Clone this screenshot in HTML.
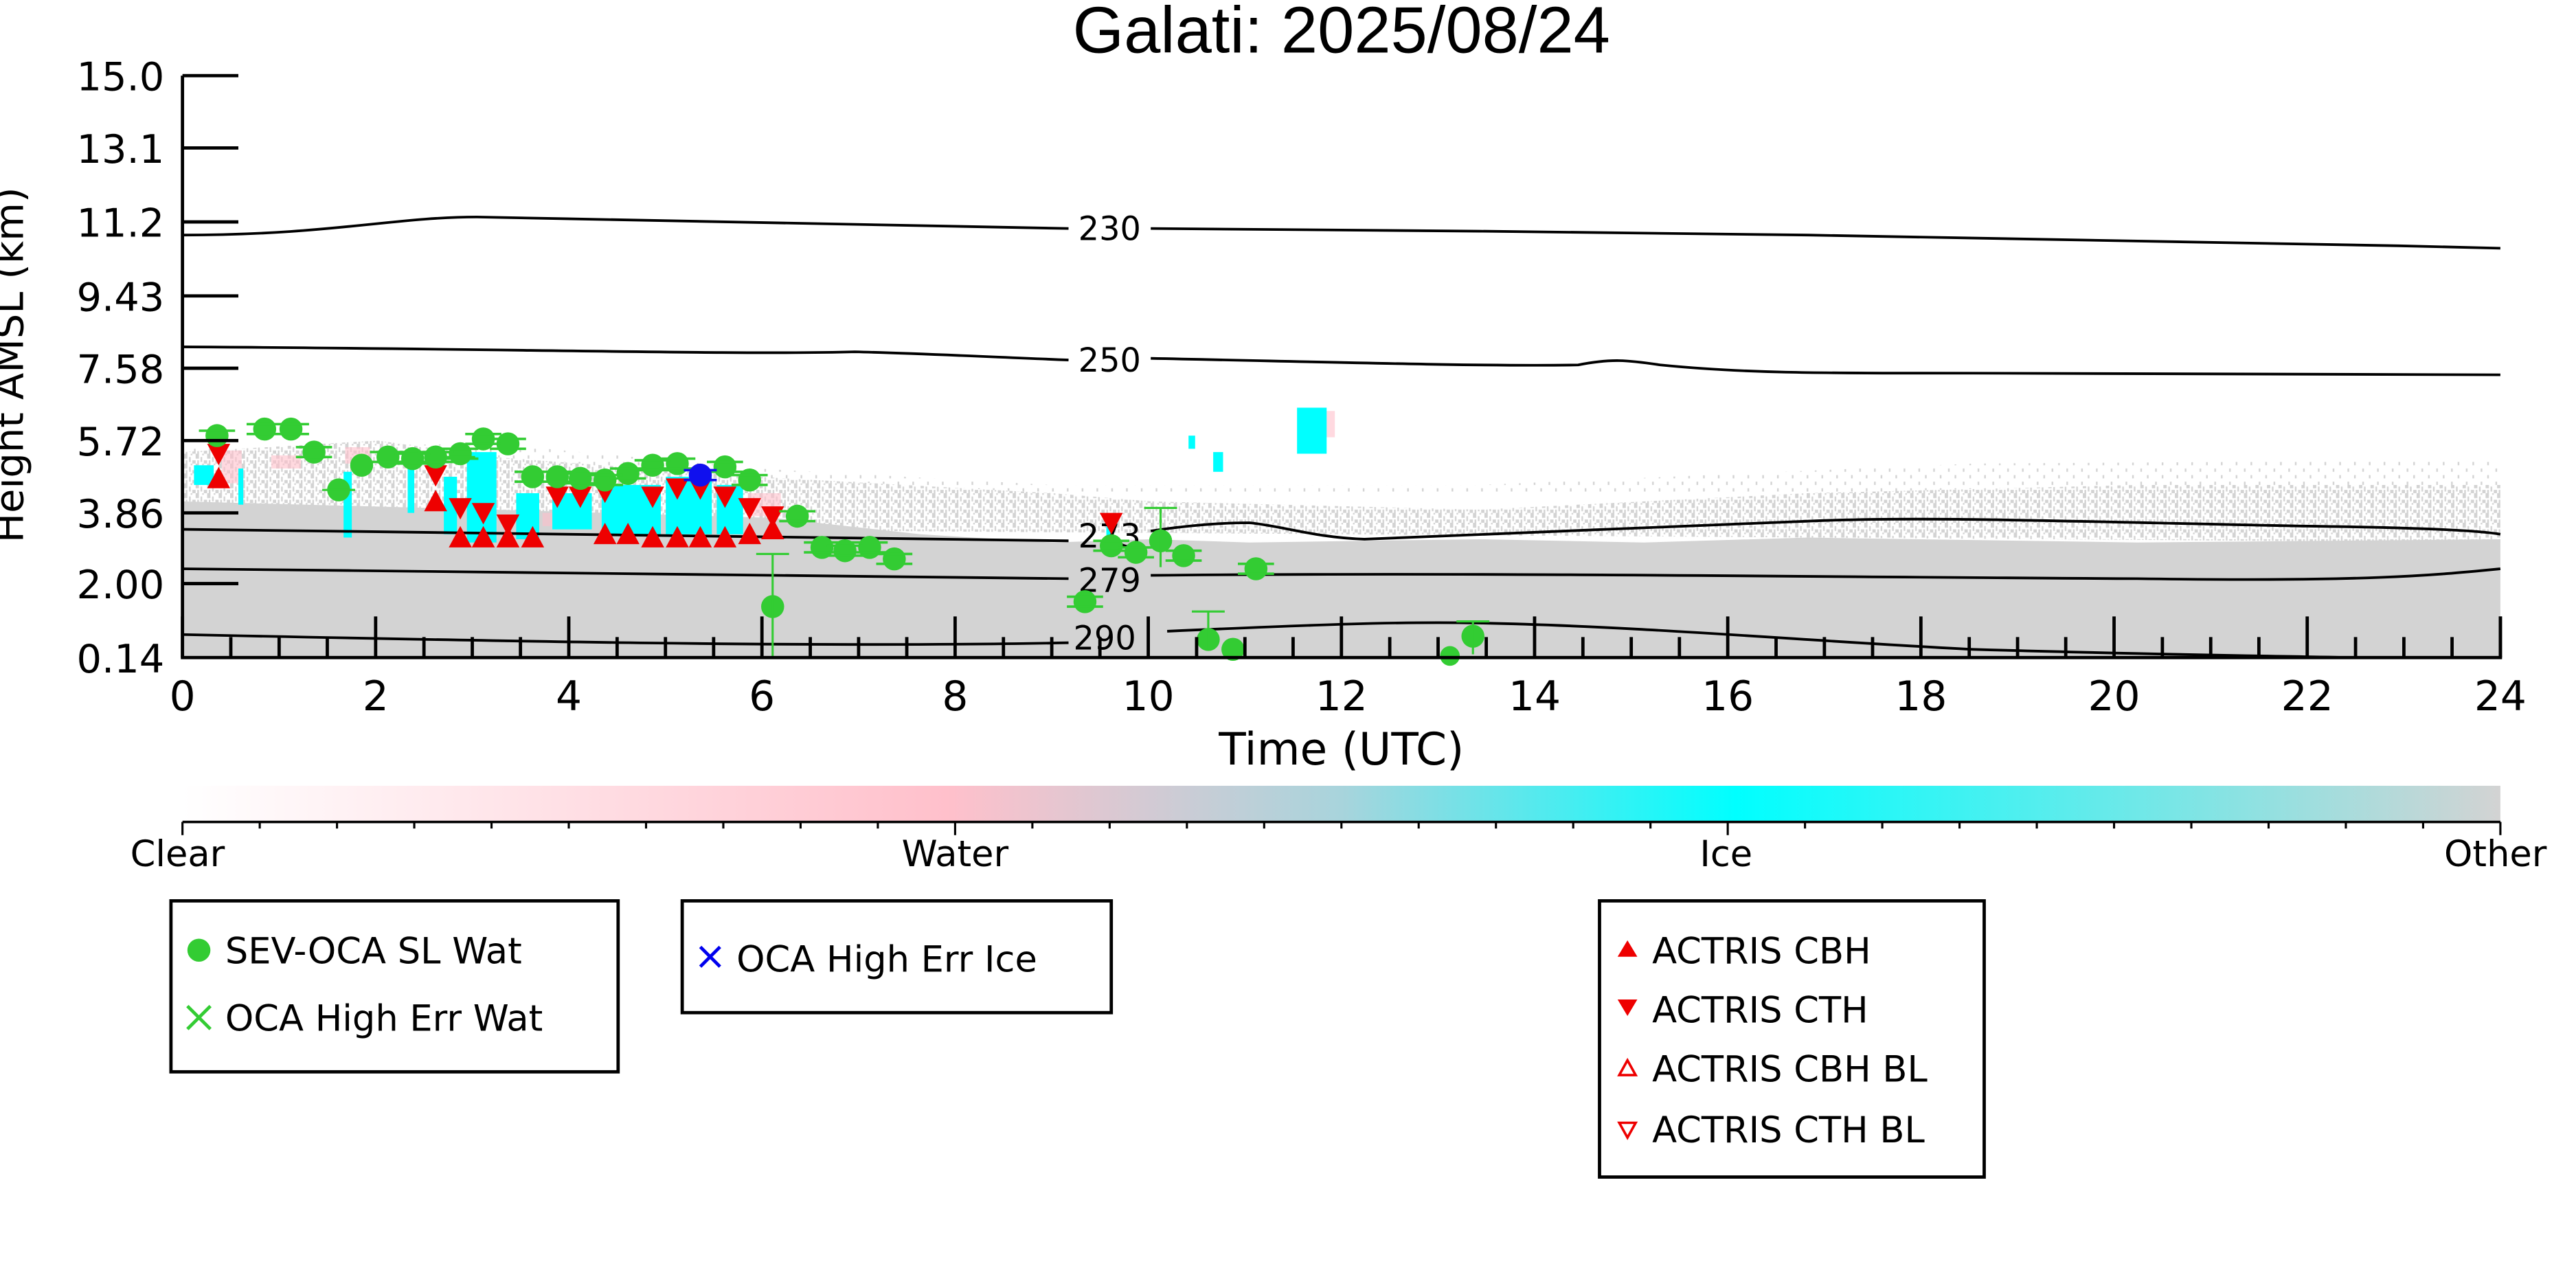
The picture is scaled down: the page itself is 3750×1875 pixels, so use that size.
<!DOCTYPE html>
<html><head><meta charset="utf-8"><style>
html,body{margin:0;padding:0;background:#fff;}
svg{display:block;}
text{font-family:"DejaVu Sans","Liberation Sans",sans-serif;}
</style></head><body>
<svg width="3750" height="1875" viewBox="0 0 1567 783.5" xmlns="http://www.w3.org/2000/svg">
<defs>
<linearGradient id="cb" x1="0" x2="1" y1="0" y2="0">
<stop offset="0" stop-color="#ffffff"/>
<stop offset="0.33" stop-color="#ffc0cb"/>
<stop offset="0.5" stop-color="#a8d4dc"/>
<stop offset="0.67" stop-color="#00ffff"/>
<stop offset="1" stop-color="#d3d3d3"/>
</linearGradient>
<pattern id="d1" width="7" height="6" patternUnits="userSpaceOnUse"><rect width="7" height="6" fill="#fff"/><rect x="0" y="0" width="2" height="3" fill="#d3d3d3"/><rect x="3" y="2" width="1" height="3" fill="#d3d3d3"/><rect x="5" y="4" width="2" height="2" fill="#d3d3d3"/><rect x="4" y="0" width="1" height="1" fill="#d3d3d3"/><rect x="1" y="4" width="1" height="2" fill="#d3d3d3"/></pattern>
<pattern id="d2" width="9" height="8" patternUnits="userSpaceOnUse"><rect width="9" height="8" fill="#fff"/><rect x="1" y="1" width="1" height="2" fill="#d3d3d3"/><rect x="6" y="5" width="1" height="2" fill="#d3d3d3"/></pattern>
</defs>
<text x="816" y="32" font-size="40" text-anchor="middle" style="font-family:'Liberation Sans',sans-serif">Galati: 2025/08/24</text>
<!-- data -->
<polygon fill="url(#d2)" points="111,272 300,270 460,285 640,295 900,295 1200,282 1521,280 1521,300 111,300"/>
<polygon fill="url(#d1)" points="111,275 230,268 300,278 460,290 640,300 700,305 900,310 1100,300 1300,295 1521,295 1521,330 111,320"/>
<polygon fill="#d3d3d3" points="111,400 111,305 300,310 470,315 560,325 640,330 700,328 760,330 900,328 1000,330 1100,327 1300,330 1521,328 1521,400"/>
<g fill="#ffc0cb" opacity="0.6">
<rect x="135" y="274" width="12" height="20"/><rect x="165" y="277" width="18" height="8"/><rect x="210" y="272" width="15" height="10"/>
<rect x="330" y="312" width="12" height="8"/><rect x="455" y="300" width="20" height="14"/>
<rect x="806" y="250" width="6" height="16"/>
</g>
<g fill="#00ffff">
<rect x="118" y="283" width="12" height="12"/><rect x="145" y="285" width="3" height="22"/>
<rect x="209" y="287" width="5" height="40"/><rect x="248" y="282" width="4" height="30"/>
<rect x="270" y="290" width="8" height="35"/><rect x="284" y="275" width="18" height="55"/>
<rect x="314" y="300" width="14" height="28"/><rect x="336" y="300" width="24" height="22"/>
<rect x="366" y="295" width="36" height="30"/><rect x="405" y="290" width="28" height="35"/><rect x="436" y="295" width="16" height="30"/>
<rect x="789" y="248" width="18" height="28"/><rect x="738" y="275" width="6" height="12"/><rect x="723" y="265" width="4" height="8"/>
<rect x="673" y="318" width="4" height="8"/>
</g>
<!-- contours -->
<g fill="none" stroke="#000" stroke-width="1.6">
<path d="M111,143 C200,143 240,132 290,132 C400,134 500,137 650,139 M700,139 C850,140 950,141 1100,143 C1300,146 1400,148 1521,151"/>
<path d="M111,211 C300,212 450,216 520,214 C560,215 600,217 650,219 M700,218 C800,220 900,223 960,222 C980,218 990,219 1010,222 C1060,227 1100,227 1200,227 C1350,227 1450,227 1521,228"/>
<path d="M111,322 C300,324 500,328 650,329 M700,323 C720,320 740,318 760,318 C780,320 800,327 830,328 C900,326 1000,321 1100,317 C1170,314 1250,317 1400,320 C1480,321 1510,323 1521,325"/>
<path d="M111,346 C300,348 500,350 650,352 M700,350 C900,348 1100,351 1300,352 C1440,354 1480,350 1521,346"/>
<path d="M111,386 C300,390 500,394 650,391 M710,384 C800,380 850,378 900,379 C1000,381 1100,390 1200,395 C1300,398 1380,399 1430,400"/>
</g>
<g font-size="20" text-anchor="middle">
<text x="675" y="146">230</text><text x="675" y="226">250</text>
<text x="675" y="333">273</text><text x="675" y="360">279</text><text x="672" y="395">290</text>
</g>
<!-- red markers -->
<g fill="#ee0000">
<path d="M126,270 h14 l-7,13z M133,284 l-7,13 h14z"/>
<path d="M265,298 l-7,13 h14z M280,320 l-7,13 h14z M294,320 l-7,13 h14z M309,320 l-7,13 h14z M324,320 l-7,13 h14z M368,318 l-7,13 h14z M382,318 l-7,13 h14z M397,320 l-7,13 h14z M412,320 l-7,13 h14z M426,320 l-7,13 h14z M441,320 l-7,13 h14z M456,318 l-7,13 h14z M470,315 l-7,13 h14z"/>
<path d="M258,283 h14 l-7,13z M273,303 h14 l-7,13z M287,306 h14 l-7,13z M302,313 h14 l-7,13z M332,296 h14 l-7,13z M346,296 h14 l-7,13z M361,293 h14 l-7,13z M390,296 h14 l-7,13z M405,291 h14 l-7,13z M419,291 h14 l-7,13z M434,296 h14 l-7,13z M449,303 h14 l-7,13z M463,308 h14 l-7,13z M669,312 h14 l-7,13z"/>
</g>
<!-- green markers -->
<g fill="#33cc33" stroke="#33cc33" stroke-width="1.3">
<g stroke="none">
<circle cx="132" cy="265" r="7"/><circle cx="161" cy="261" r="7"/><circle cx="177" cy="261" r="7"/><circle cx="191" cy="275" r="7"/>
<circle cx="206" cy="298" r="7"/><circle cx="220" cy="283" r="7"/><circle cx="236" cy="278" r="7"/><circle cx="251" cy="279" r="7"/>
<circle cx="265" cy="278" r="7"/><circle cx="280" cy="276" r="7"/><circle cx="294" cy="267" r="7"/><circle cx="309" cy="270" r="7"/>
<circle cx="324" cy="290" r="7"/><circle cx="339" cy="290" r="7"/><circle cx="353" cy="291" r="7"/><circle cx="368" cy="292" r="7"/>
<circle cx="382" cy="288" r="7"/><circle cx="397" cy="283" r="7"/><circle cx="412" cy="282" r="7"/><circle cx="441" cy="284" r="7"/>
<circle cx="456" cy="292" r="7"/><circle cx="485" cy="314" r="7"/><circle cx="500" cy="333" r="7"/><circle cx="514" cy="335" r="7"/>
<circle cx="529" cy="333" r="7"/><circle cx="544" cy="340" r="7"/><circle cx="470" cy="369" r="7"/><circle cx="660" cy="366" r="7"/>
<circle cx="676" cy="332" r="7"/><circle cx="691" cy="336" r="7"/><circle cx="706" cy="329" r="7"/><circle cx="720" cy="338" r="7"/>
<circle cx="735" cy="389" r="7"/><circle cx="750" cy="395" r="7"/><circle cx="764" cy="346" r="7"/><circle cx="896" cy="387" r="7"/><circle cx="882" cy="399" r="6"/>
</g>
<path d="M470,337 V400 M460,337 H480 M706,309 V345 M696,309 H716 M735,372 V395 M725,372 H745 M896,378 V398 M886,378 H906 M196,298 H216 M271,278 H289"/>
<path stroke-width="1.5" d="M121,262h22M121,268h22 M150,258h22M150,264h22 M166,258h22M166,264h22 M180,272h22M180,278h22 M225,275h22M225,281h22 M240,276h22M240,282h22 M254,275h22M254,281h22 M269,273h22M269,279h22 M283,264h22M283,270h22 M298,267h22M298,273h22 M313,287h22M313,293h22 M328,287h22M328,293h22 M342,288h22M342,294h22 M357,289h22M357,295h22 M371,285h22M371,291h22 M386,280h22M386,286h22 M401,279h22M401,285h22 M430,281h22M430,287h22 M445,289h22M445,295h22 M474,311h22M474,317h22 M489,330h22M489,336h22 M503,332h22M503,338h22 M518,330h22M518,336h22 M533,337h22M533,343h22 M649,363h22M649,369h22 M665,329h22M665,335h22 M680,333h22M680,339h22 M709,335h22M709,341h22 M753,343h22M753,349h22"/>
</g>
<circle cx="426" cy="289" r="7" fill="#1010ee"/>
<path d="M416,286h20M416,292h20" stroke="#1010ee" stroke-width="1.5"/>
<!-- axes -->
<g stroke="#000" stroke-width="2" fill="none">
<line x1="111" y1="46" x2="111" y2="400"/>
<line x1="110" y1="400" x2="1522" y2="400"/>
<line x1="1521" y1="375" x2="1521" y2="400"/>
<path d="M111,46h34 M111,90h34 M111,135h34 M111,180h34 M111,224h34 M111,268h34 M111,312h34 M111,355h34"/>
<path d="M111,400v-25 M228.5,400v-25 M346,400v-25 M463.5,400v-25 M581,400v-25 M698.5,400v-25 M816,400v-25 M933.5,400v-25 M1051,400v-25 M1168.5,400v-25 M1286,400v-25 M1403.5,400v-25 M1521,400v-25"/>
<path d="M140.4,400v-12.5 M169.8,400v-12.5 M199.1,400v-12.5 M257.9,400v-12.5 M287.3,400v-12.5 M316.6,400v-12.5 M375.4,400v-12.5 M404.8,400v-12.5 M434.1,400v-12.5 M492.9,400v-12.5 M522.3,400v-12.5 M551.6,400v-12.5 M610.4,400v-12.5 M639.8,400v-12.5 M669.1,400v-12.5 M727.9,400v-12.5 M757.3,400v-12.5 M786.6,400v-12.5 M845.4,400v-12.5 M874.8,400v-12.5 M904.1,400v-12.5 M962.9,400v-12.5 M992.3,400v-12.5 M1021.6,400v-12.5 M1080.4,400v-12.5 M1109.8,400v-12.5 M1139.1,400v-12.5 M1197.9,400v-12.5 M1227.3,400v-12.5 M1256.6,400v-12.5 M1315.4,400v-12.5 M1344.8,400v-12.5 M1374.1,400v-12.5 M1432.9,400v-12.5 M1462.3,400v-12.5 M1491.6,400v-12.5"/>
</g>
<g font-size="24" text-anchor="end">
<text x="100" y="55">15.0</text><text x="100" y="99">13.1</text><text x="100" y="144">11.2</text><text x="100" y="189">9.43</text>
<text x="100" y="233">7.58</text><text x="100" y="277">5.72</text><text x="100" y="321">3.86</text><text x="100" y="364">2.00</text><text x="100" y="409">0.14</text>
</g>
<text transform="translate(14,222) rotate(-90)" font-size="24" text-anchor="middle">Height AMSL (km)</text>
<g font-size="25" text-anchor="middle">
<text x="111" y="432">0</text><text x="228.5" y="432">2</text><text x="346" y="432">4</text><text x="463.5" y="432">6</text>
<text x="581" y="432">8</text><text x="698.5" y="432">10</text><text x="816" y="432">12</text><text x="933.5" y="432">14</text>
<text x="1051" y="432">16</text><text x="1168.5" y="432">18</text><text x="1286" y="432">20</text><text x="1403.5" y="432">22</text><text x="1521" y="432">24</text>
<text x="816" y="465" font-size="27">Time (UTC)</text>
</g>
<!-- colorbar -->
<rect x="111" y="478" width="1410" height="22" fill="url(#cb)"/>
<line x1="111" y1="500" x2="1521" y2="500" stroke="#000" stroke-width="1.5"/>
<g stroke="#000" stroke-width="1.3">
<path d="M111,500v8 M581,500v8 M1051,500v8 M1521,500v8"/>
<path d="M158,500v4 M205,500v4 M252,500v4 M299,500v4 M346,500v4 M393,500v4 M440,500v4 M487,500v4 M534,500v4 M628,500v4 M675,500v4 M722,500v4 M769,500v4 M816,500v4 M863,500v4 M910,500v4 M957,500v4 M1004,500v4 M1098,500v4 M1145,500v4 M1192,500v4 M1239,500v4 M1286,500v4 M1333,500v4 M1380,500v4 M1427,500v4 M1474,500v4"/>
</g>
<g font-size="22" text-anchor="middle">
<text x="108" y="527">Clear</text><text x="581" y="527">Water</text><text x="1050" y="527">Ice</text><text x="1518" y="527">Other</text>
</g>
<!-- legends -->
<g fill="none" stroke="#000" stroke-width="2">
<rect x="104" y="548" width="272" height="104"/>
<rect x="415" y="548" width="261" height="68"/>
<rect x="973" y="548" width="234" height="168"/>
</g>
<g font-size="22">
<circle cx="121" cy="578" r="7" fill="#33cc33"/>
<text x="137" y="586">SEV-OCA SL Wat</text>
<path d="M114,612 l14,14 M128,612 l-14,14" stroke="#33cc33" stroke-width="2"/>
<text x="137" y="627">OCA High Err Wat</text>
<path d="M426,576 l12,12 M438,576 l-12,12" stroke="#0000ee" stroke-width="2"/>
<text x="448" y="591">OCA High Err Ice</text>
<path d="M990,572 l-6,10 h12z" fill="#ee0000"/>
<text x="1005" y="586">ACTRIS CBH</text>
<path d="M984,608 h12 l-6,10z" fill="#ee0000"/>
<text x="1005" y="622">ACTRIS CTH</text>
<path d="M990,645 l-5,9 h10z" fill="none" stroke="#ee0000" stroke-width="1.5"/>
<text x="1005" y="658">ACTRIS CBH BL</text>
<path d="M985,683 h10 l-5,9z" fill="none" stroke="#ee0000" stroke-width="1.5"/>
<text x="1005" y="695">ACTRIS CTH BL</text>
</g>
</svg>
</body></html>
